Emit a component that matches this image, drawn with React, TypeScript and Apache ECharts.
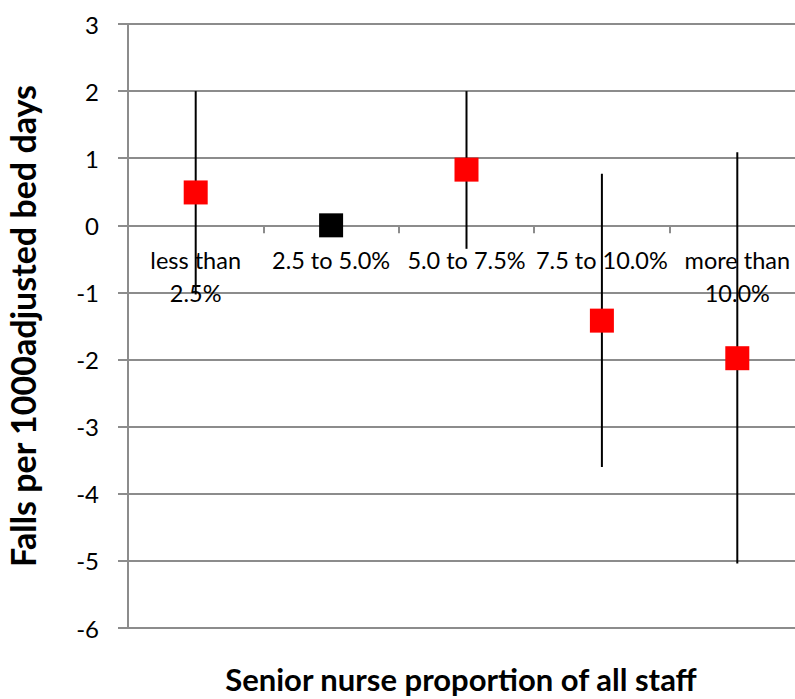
import * as echarts from "echarts";
import { useEffect, useRef } from "react";

const categories = ["less than\n2.5%", "2.5 to 5.0%", "5.0 to 7.5%", "7.5 to 10.0%", "more than\n10.0%"];
const means = [0.49, 0, 0.83, -1.42, -1.98];
const lows: (number | null)[] = [-1.03, null, -0.35, -3.6, -5.04];
const highs: (number | null)[] = [2.0, null, 2.0, 0.77, 1.09];
const markerColors = ["#ff0000", "#000000", "#ff0000", "#ff0000", "#ff0000"];

const FONT = "Lato, 'Open Sans', sans-serif";
const GRID_TOP = 24;
const GRID_BOTTOM = 71;
const Y_MIN = -6;
const Y_MAX = 3;

export default function App() {
  const chartRef = useRef<HTMLDivElement | null>(null);

  useEffect(() => {
    if (!chartRef.current) return;
    const chart = echarts.init(chartRef.current, null, { renderer: "svg" });

    const errData = categories
      .map((_, i) => (lows[i] == null ? null : [i, lows[i], highs[i]]))
      .filter((d) => d !== null);

    // move the category axis up so it crosses the value axis at 0
    const plotH = 699 - GRID_TOP - GRID_BOTTOM;
    const zeroOffset = -(plotH * (0 - Y_MIN)) / (Y_MAX - Y_MIN);

    chart.setOption({
      animation: false,
      grid: { left: 128, top: GRID_TOP, bottom: GRID_BOTTOM, right: -10, outerBoundsMode: "none" },
      xAxis: {
        type: "category",
        data: categories,
        boundaryGap: true,
        offset: zeroOffset,
        axisLine: { onZero: false, lineStyle: { color: "#8c8c8c", width: 2 } },
        axisTick: { show: true, length: 8, interval: 0, lineStyle: { color: "#8c8c8c", width: 2 } },
        axisLabel: {
          interval: 0,
          margin: 18,
          color: "#000",
          fontFamily: FONT,
          fontSize: 23.5,
          lineHeight: 33,
        },
      },
      yAxis: {
        type: "value",
        min: Y_MIN,
        max: Y_MAX,
        interval: 1,
        name: "Falls per 1000adjusted bed days",
        nameLocation: "middle",
        nameGap: 89,
        nameTextStyle: { color: "#000", fontFamily: FONT, fontSize: 34, lineHeight: 34, fontWeight: "bold" },
        axisLine: { show: true, lineStyle: { color: "#8c8c8c", width: 2 } },
        axisTick: { show: true, length: 10, lineStyle: { color: "#8c8c8c", width: 2 } },
        axisLabel: { color: "#000", fontFamily: FONT, fontSize: 24, margin: 29 },
        splitLine: { show: true, lineStyle: { color: "#8c8c8c", width: 2 } },
      },
      graphic: [
        {
          type: "text",
          x: 461,
          y: 679,
          style: {
            text: "Senior nurse proportion of all staff",
            fill: "#000",
            font: `bold 31px ${FONT}`,
            textAlign: "center",
            textVerticalAlign: "middle",
          },
        },
      ],
      series: [
        {
          type: "custom",
          z: 2,
          data: errData,
          renderItem: (_params: any, api: any) => {
            const x = api.value(0);
            const lo = api.coord([x, api.value(1)]);
            const hi = api.coord([x, api.value(2)]);
            return {
              type: "line",
              shape: { x1: lo[0], y1: lo[1], x2: hi[0], y2: hi[1] },
              style: { stroke: "#000", lineWidth: 2 },
            };
          },
        },
        {
          type: "scatter",
          z: 3,
          symbol: "rect",
          symbolSize: 24,
          data: means.map((v, i) => ({ value: v, itemStyle: { color: markerColors[i], opacity: 1 } })),
        },
      ],
    });

    return () => {
      chart.dispose();
    };
  }, []);

  return (
    <div
      ref={chartRef}
      style={{ position: "absolute", left: 0, top: 0, width: 795, height: 699, background: "#fff" }}
    />
  );
}
